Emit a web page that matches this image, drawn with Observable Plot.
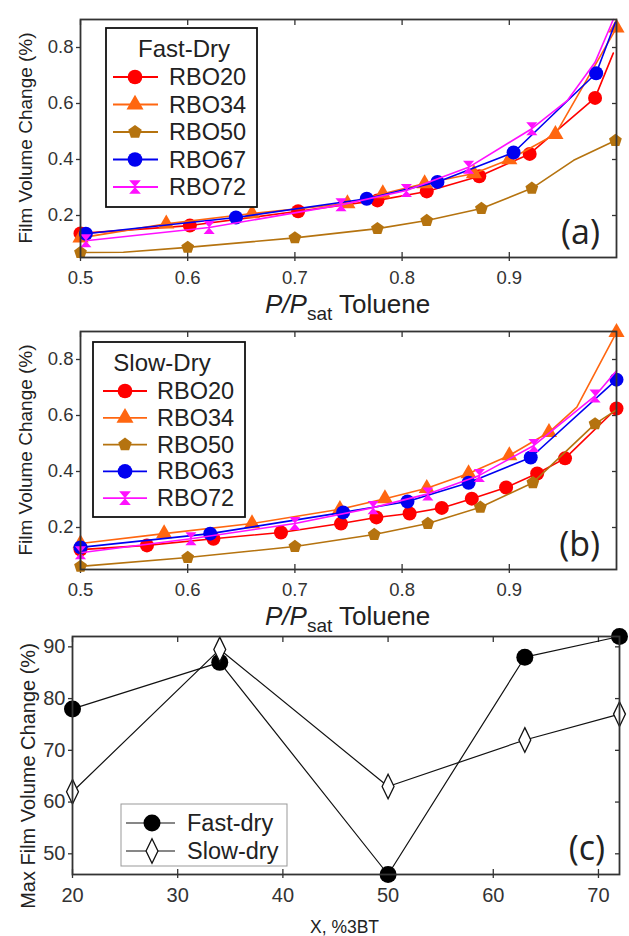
<!DOCTYPE html>
<html><head><meta charset="utf-8">
<script src="https://cdn.jsdelivr.net/npm/d3@7"></script>
<script src="https://cdn.jsdelivr.net/npm/@observablehq/plot@0.6"></script>
<style>
body{margin:0;background:#fff;}
#wrap{position:relative;width:629px;height:936px;overflow:hidden;font-family:"Liberation Sans",Arial,sans-serif;}
#wrap > svg{position:absolute;left:0;}
</style></head><body><div id="wrap"></div>
<script>
// ---------------- DATA ----------------
// each point: [P/Psat, film volume change, has marker (1/0)]
const fastNames = ["RBO20","RBO34","RBO50","RBO67","RBO72"];
const slowNames = ["RBO20","RBO34","RBO50","RBO63","RBO72"];
const fastRBO20 = [[0.5,0.136,1],[0.602,0.164,1],[0.703,0.215,1],[0.777,0.254,1],[0.823,0.286,1],[0.872,0.34,1],[0.919,0.42,1],[0.98,0.62,1],[0.997,0.78,0]];
const fastRBO34 = [[0.5,0.12,1],[0.58,0.17,1],[0.66,0.207,1],[0.749,0.243,1],[0.782,0.278,1],[0.821,0.314,1],[0.867,0.35,1],[0.9,0.40,1],[0.943,0.49,1],[1.0,0.87,1]];
const fastRBO50 = [[0.5,0.068,1],[0.54,0.069,0],[0.6,0.086,1],[0.7,0.12,1],[0.777,0.153,1],[0.823,0.182,1],[0.874,0.225,1],[0.921,0.297,1],[0.96,0.397,0],[0.999,0.468,1]];
const fastRBO67 = [[0.505,0.135,1],[0.645,0.193,1],[0.767,0.26,1],[0.833,0.32,1],[0.904,0.425,1],[0.981,0.708,1],[0.999,0.89,0]];
const fastRBO72 = [[0.505,0.11,1],[0.62,0.157,1],[0.743,0.238,1],[0.804,0.289,1],[0.862,0.372,1],[0.921,0.51,1],[0.954,0.61,0],[0.98,0.747,0],[0.997,0.9,0]];
const slowRBO20 = [[0.5,0.121,1],[0.562,0.136,1],[0.624,0.16,1],[0.687,0.182,1],[0.743,0.214,1],[0.776,0.236,1],[0.807,0.25,1],[0.837,0.27,1],[0.865,0.303,1],[0.897,0.343,1],[0.926,0.393,1],[0.952,0.447,1],[1.0,0.625,1]];
const slowRBO34 = [[0.5,0.143,1],[0.578,0.178,1],[0.66,0.214,1],[0.742,0.265,1],[0.784,0.303,1],[0.823,0.34,1],[0.862,0.393,1],[0.9,0.457,1],[0.937,0.54,1],[0.963,0.63,0],[1.0,0.897,1]];
const slowRBO50 = [[0.5,0.061,1],[0.6,0.093,1],[0.7,0.132,1],[0.774,0.175,1],[0.824,0.214,1],[0.873,0.272,1],[0.922,0.36,1],[0.98,0.57,1],[1.0,0.62,0]];
const slowRBO63 = [[0.5,0.129,1],[0.621,0.178,1],[0.745,0.254,1],[0.805,0.293,1],[0.862,0.36,1],[0.92,0.45,1],[1.0,0.728,1]];
const slowRBO72 = [[0.5,0.11,1],[0.603,0.16,1],[0.7,0.214,1],[0.773,0.271,1],[0.824,0.32,1],[0.872,0.386,1],[0.923,0.493,1],[0.98,0.67,1],[1.0,0.76,0]];
// panel (c)
const xBT = [20,34,50,63,72];
const fastMax = [78,87,46,88,92];
const slowMax = [62,89.5,63,72,77];
// ticks
const pTicks = [0.5,0.6,0.7,0.8,0.9];
const vTicks = [0.2,0.4,0.6,0.8];
const btTicks = [20,30,40,50,60,70];
const maxTicks = [50,60,70,80,90];

// ---------------- STYLES ----------------
const colors = ["#ff0000","#ff6610","#b5730f","#0000f0","#ff10ff"];
const pentagon = {draw(ctx, size){const R=Math.sqrt(size/Math.PI)*1.12;for(let k=0;k<5;k++){const a=-Math.PI/2+k*2*Math.PI/5;const x=R*Math.cos(a),y=R*Math.sin(a);k?ctx.lineTo(x,y):ctx.moveTo(x,y);}ctx.closePath();}};
const hourglass = {draw(ctx, size){const s=Math.sqrt(size/Math.PI);const w=s*0.9,h=s*1.05;ctx.moveTo(-w,-h);ctx.lineTo(w,-h);ctx.lineTo(0,0);ctx.closePath();ctx.moveTo(-w,h);ctx.lineTo(w,h);ctx.lineTo(0,0);ctx.closePath();}};
const diamond = {draw(ctx, size){const s=Math.sqrt(size/Math.PI);const w=s*0.7,h=s*1.45;ctx.moveTo(0,-h);ctx.lineTo(w,0);ctx.lineTo(0,h);ctx.lineTo(-w,0);ctx.closePath();}};
const symbols = ["circle","triangle",pentagon,"circle",hourglass];
const radii = [7,6,6,7,6.2];

const wrap = document.getElementById("wrap");
const axisColor = "#333";

function frameAxes(xt, yt, fs, fmt){
  return [
    Plot.axisX({anchor:"bottom", ticks:xt, tickFormat:fmt, tickSize:4, tickPadding:9, fontSize:fs, label:null, color:axisColor, strokeWidth:1.3}),
    Plot.axisX({anchor:"bottom", ticks:xt, tickSize:-5, fill:"none", label:null, color:axisColor, strokeWidth:1.3}),
    Plot.axisX({anchor:"top", ticks:xt, tickSize:-5, fill:"none", label:null, color:axisColor, strokeWidth:1.3}),
    Plot.axisY({anchor:"left", ticks:yt, tickFormat:fmt, tickSize:4, tickPadding:3, fontSize:fs, label:null, color:axisColor, strokeWidth:1.3}),
    Plot.axisY({anchor:"right", ticks:yt, tickSize:-5, fill:"none", label:null, color:axisColor, strokeWidth:1.3})
  ];
}

function pPanel(series){
  const marks = [];
  series.forEach((data,i)=>{
    marks.push(Plot.line(data,{x:d=>d[0], y:d=>d[1], stroke:colors[i], strokeWidth:1.6}));
    marks.push(Plot.dot(data.filter(d=>d[2]===1),{x:d=>d[0], y:d=>d[1], fill:colors[i], stroke:"none", symbol:symbols[i], r:radii[i]}));
  });
  return Plot.plot({
    width:629, height:312, marginLeft:80, marginRight:13, marginTop:19, marginBottom:55,
    x:{domain:[0.5,1]}, y:{domain:[0.05,0.9]},
    style:{background:"transparent", overflow:"visible", fontFamily:"Liberation Sans, Arial, sans-serif", color:axisColor},
    marks:[...frameAxes(pTicks, vTicks, 18.5, d3.format(".1f")), ...marks, Plot.frame({stroke:axisColor, strokeWidth:1.8})]
  });
}

const svgA = pPanel([fastRBO20,fastRBO34,fastRBO50,fastRBO67,fastRBO72]);
svgA.style.top = "0px"; wrap.appendChild(svgA);
const svgB = pPanel([slowRBO20,slowRBO34,slowRBO50,slowRBO63,slowRBO72]);
svgB.style.top = "312px"; wrap.appendChild(svgB);

const cFast = xBT.map((x,i)=>({x, y:fastMax[i]}));
const cSlow = xBT.map((x,i)=>({x, y:slowMax[i]}));
const svgC = Plot.plot({
  width:629, height:312, marginLeft:72, marginRight:10, marginTop:12, marginBottom:62,
  x:{domain:[20,72]}, y:{domain:[46,92]},
  style:{background:"transparent", overflow:"visible", fontFamily:"Liberation Sans, Arial, sans-serif", color:axisColor},
  marks:[
    ...frameAxes(btTicks, maxTicks, 20, d3.format("d")),
    Plot.line(cFast,{x:"x", y:"y", stroke:"#111", strokeWidth:1.2}),
    Plot.line(cSlow,{x:"x", y:"y", stroke:"#111", strokeWidth:1.2}),
    Plot.dot(cFast,{x:"x", y:"y", fill:"#000", stroke:"none", r:8.5}),
    Plot.dot(cSlow,{x:"x", y:"y", fill:"#fff", stroke:"#111", strokeWidth:1.3, symbol:diamond, r:8.5}),
    Plot.frame({stroke:axisColor, strokeWidth:1.8})
  ]
});
svgC.style.top = "624px"; wrap.appendChild(svgC);

// ---------------- OVERLAY: labels & legends ----------------
const ov = d3.select(wrap).append("svg").attr("width",629).attr("height",936)
  .style("position","absolute").style("top","0px").style("left","0px")
  .style("font-family","Liberation Sans, Arial, sans-serif").attr("fill","#222");

function ylab(text, cx, cy, fs){
  ov.append("text").attr("transform",`translate(${cx},${cy}) rotate(-90)`).attr("text-anchor","middle")
    .attr("dy","0.35em").attr("font-size",fs).text(text);
}
ylab("Film Volume Change (%)", 25, 138, 19);
ylab("Film Volume Change (%)", 25, 450, 19);
ylab("Max Film Volume Change (%)", 28, 776, 20);

function xlab(baseY){
  const t = ov.append("text").attr("x",265).attr("y",baseY).attr("font-size",26);
  t.append("tspan").attr("font-style","italic").text("P/P");
  t.append("tspan").attr("font-size",19).attr("dy",7).text("sat");
  t.append("tspan").attr("dy",-7).text(" Toluene");
}
xlab(313); xlab(625);
ov.append("text").attr("x",310).attr("y",933).attr("font-size",17.5).text("X, %3BT");

function panelLabel(t, xr, by){
  ov.append("text").attr("x",xr).attr("y",by).attr("text-anchor","end")
    .attr("font-family","Open Sans, Noto Sans, sans-serif").attr("font-size",34).text(t);
}
panelLabel("(a)",600,244); panelLabel("(b)",600,556); panelLabel("(c)",605,860);

function sym(type, r){ return d3.symbol().type(typeof type === "string" ? (type==="circle"?d3.symbolCircle:d3.symbolTriangle) : type).size(r*r*Math.PI)(); }

function legend(bx, by, bw, bh, title, tx, ty, names, y0, dy, lx1, lx2, mx, textX){
  ov.append("rect").attr("x",bx).attr("y",by).attr("width",bw).attr("height",bh)
    .attr("fill","#fff").attr("stroke","#111").attr("stroke-width",1.8);
  ov.append("text").attr("x",tx).attr("y",ty).attr("text-anchor","middle").attr("font-size",24).text(title);
  names.forEach((n,i)=>{
    const y = y0 + i*dy;
    ov.append("line").attr("x1",lx1).attr("x2",lx2).attr("y1",y).attr("y2",y).attr("stroke",colors[i]).attr("stroke-width",1.8);
    ov.append("path").attr("d",sym(symbols[i],radii[i]*1.05)).attr("transform",`translate(${mx},${y})`).attr("fill",colors[i]);
    ov.append("text").attr("x",textX).attr("y",y+8).attr("font-size",23.5).text(n);
  });
}
legend(106,28,151,179,"Fast-Dry",184,57,fastNames,77,27.5,113,158,135,169);
legend(93,342,152,175,"Slow-Dry",162,371,slowNames,391,26.8,103,147,125,157);

// legend (c)
ov.append("rect").attr("x",121).attr("y",804).attr("width",166).attr("height",62)
  .attr("fill","#fff").attr("stroke","#999").attr("stroke-width",1);
[["Fast-dry",823],["Slow-dry",851]].forEach(([n,y],i)=>{
  ov.append("line").attr("x1",126).attr("x2",175).attr("y1",y).attr("y2",y).attr("stroke","#111").attr("stroke-width",1.2);
  if(i===0) ov.append("path").attr("d",d3.symbol().type(d3.symbolCircle).size(8.5*8.5*Math.PI)()).attr("transform",`translate(152,${y})`).attr("fill","#000");
  else ov.append("path").attr("d",d3.symbol().type(diamond).size(8.5*8.5*Math.PI)()).attr("transform",`translate(152,${y})`).attr("fill","#fff").attr("stroke","#111").attr("stroke-width",1.3);
  ov.append("text").attr("x",187).attr("y",y+8).attr("font-size",23.5).text(n);
});
</script></body></html>
